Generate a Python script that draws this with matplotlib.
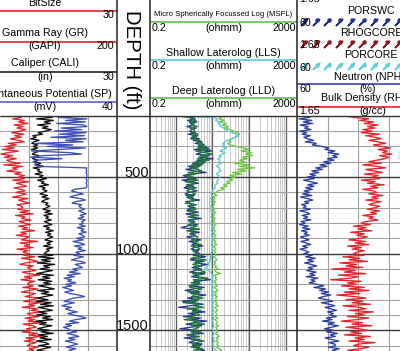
import numpy as np
import matplotlib
matplotlib.use("Agg")
import matplotlib.pyplot as plt
from matplotlib.ticker import FixedLocator

plt.rcParams['font.family'] = ['Liberation Sans', 'DejaVu Sans']

DEPTH = np.arange(100, 1650, 10)

# Gamma Ray (GAPI), scale 0 - 200
GR = [62, 70, 58, 74, 66, 79, 60, 72, 64, 76,
      68, 57, 73, 61, 70, 55, 66, 74, 52, 63,
      48, 60, 44, 66, 52, 42, 58, 47, 63, 50,
      55, 68, 46, 72, 58, 64, 50, 70, 61, 74,
      66, 74, 58, 80, 63, 71, 77, 60, 69, 75,
      62, 76, 70, 58, 79, 66, 73, 81, 64, 70,
      72, 65, 80, 68, 86, 62, 75, 70, 83, 67,
      74, 82, 66, 78, 71, 88, 69, 77, 63, 80,
      76, 70, 92, 68, 81, 74, 86, 64, 79, 72,
      80, 73, 88, 70, 84, 92, 75, 68, 86, 78,
      82, 90, 71, 79, 95, 74, 84, 69, 88, 80,
      78, 86, 72, 92, 80, 70, 89, 83, 75, 94,
      85, 73, 96, 80, 88, 71, 92, 83, 100, 78,
      82, 94, 75, 88, 79, 98, 72, 86, 90, 77,
      84, 71, 92, 80, 97, 76, 88, 74, 90, 82,
      78, 93, 81, 87, 75]

# Caliper (in), scale 0 - 30
CALI = [14.5, 16.8, 13.6, 17.0, 15.2, 16.4, 13.8, 15.9, 14.8, 16.6,
        15.4, 13.9, 14.8, 12.8, 13.5, 12.4, 14.1, 13.0, 12.6, 13.8,
        12.9, 13.8, 12.5, 14.3, 13.2, 12.7, 14.0, 13.4, 12.8, 13.9,
        13.1, 14.4, 13.6, 15.0, 12.9, 14.2, 13.8, 14.7, 13.3, 14.9,
        14.2, 15.6, 13.8, 15.1, 14.6, 16.0, 14.1, 15.3, 14.8, 15.7,
        15.0, 14.3, 15.8, 14.7, 16.1, 15.2, 14.6, 15.9, 15.4, 16.3,
        15.6, 14.9, 16.4, 15.3, 16.8, 15.1, 16.0, 15.5, 16.6, 15.2,
        15.9, 16.7, 15.0, 16.2, 15.6, 17.0, 15.4, 16.5, 15.8, 16.9,
        16.1, 15.3, 16.8, 15.7, 16.4, 15.0, 16.9, 15.6, 16.2, 15.4,
        15.2, 16.9, 13.9, 17.1, 14.6, 16.4, 13.7, 17.3, 15.0, 16.2,
        14.3, 16.8, 15.1, 13.6, 17.0, 14.8, 16.3, 13.9, 16.7, 15.0,
        16.5, 14.0, 15.8, 17.2, 13.8, 16.1, 14.6, 16.9, 15.2, 13.7,
        15.9, 13.5, 16.6, 14.4, 17.0, 13.9, 15.5, 16.8, 14.1, 15.7,
        13.6, 16.4, 14.8, 16.9, 13.4, 15.6, 14.2, 16.7, 15.0, 13.8,
        16.2, 14.5, 17.0, 13.9, 15.8, 14.3, 16.6, 13.5, 15.4, 16.1,
        14.0, 16.5, 15.1, 13.7, 16.0]

# Spontaneous Potential (mV), scale -160 - 40
SP = [-2, -40, -1, -30, -3, -42, -5, -1, -36, -8,
      -45, -2, -38, -4, -50, -2, -30, -6, -72, -20,
      -55, -3, -40, -76, -25, -8, -60, -78, -35, -70,
      -74, -70, -72, -68, -1, -2, -1, -2, -1, -1,
      -1, -2, -1, -1, -2, -1, -1, -2, -18, -22,
      -14, -6, -18, -24, -10, -3, -16, -21, -8, -12,
      -9, -4, -12, -7, -2, -10, -5, -13, -3, -8,
      -6, -11, -3, -14, -5, -9, -2, -12, -7, -4,
      -15, -6, -20, -10, -4, -18, -8, -13, -3, -16,
      -11, -19, -6, -14, -22, -9, -3, -17, -12, -7,
      -20, -14, -25, -10, -28, -18, -32, -22, -27, -16,
      -30, -22, -34, -26, -19, -31, -24, -12, -4, -20,
      -26, -32, -18, -28, -35, -22, -30, -24, -14, -27,
      -20, -9, -2, -16, -25, -12, -30, -22, -33, -26,
      -24, -15, -28, -19, -12, -26, -17, -30, -21, -14,
      -22, -29, -16, -25, -19]

# Resistivity (ohmm), log scale 0.2 - 2000
RES_B = [0.9, 2.6, 3.4, 2.1, 3.8, 2.5, 3.1, 2.0, 3.6, 2.8,
         2.4, 3.5, 2.2, 3.9, 2.7, 4.4, 3.0, 5.2, 3.4, 6.0,
         4.1, 7.8, 3.2, 9.5, 5.0, 3.6, 8.2, 4.4, 10.5, 3.8,
         6.4, 2.9, 5.3, 2.2, 4.0, 1.9, 3.3, 6.8, 2.5, 1.6,
         2.1, 3.6, 1.5, 2.9, 4.2, 2.0, 3.1, 1.7, 2.6, 3.8,
         2.3, 1.8, 3.2, 2.0, 2.7, 4.5, 1.9, 2.4, 3.0, 2.2,
         3.4, 2.1, 2.8, 4.1, 1.9, 3.0, 2.5, 5.0, 2.2, 3.3,
         2.6, 3.9, 2.0, 1.4, 3.1, 2.4, 4.4, 2.7, 3.5, 2.0,
         3.0, 4.8, 2.3, 3.6, 2.8, 5.5, 3.2, 2.6, 4.2, 3.4,
         4.6, 3.0, 6.5, 3.8, 2.5, 5.8, 3.3, 7.2, 4.0, 2.8,
         5.0, 3.5, 2.4, 6.2, 3.9, 2.7, 5.4, 8.8, 3.1, 4.5,
         3.6, 2.3, 5.9, 3.0, 1.8, 4.7, 2.6, 6.6, 3.4, 2.1,
         4.2, 1.5, 3.1, 5.6, 2.4, 1.2, 3.8, 2.9, 6.3, 2.2,
         3.5, 1.6, 4.8, 2.7, 7.0, 3.2, 1.9, 5.1, 2.5, 1.3,
         3.9, 2.6, 5.7, 2.0, 3.4, 1.7, 4.6, 3.0, 2.3, 5.3,
         2.9, 4.4, 3.6, 6.1, 3.2]

LLD = [1.2, 3.0, 2.5, 3.6, 2.3, 3.2, 2.7, 3.9, 2.4, 3.1,
       3.3, 2.6, 4.0, 2.9, 3.7, 2.5, 4.6, 3.8, 5.5, 4.1,
       6.8, 4.0, 8.6, 3.5, 6.1, 9.8, 4.7, 7.4, 3.9, 8.1,
       3.4, 5.9, 2.7, 4.6, 2.4, 3.9, 5.2, 2.2, 3.6, 2.0,
       3.0, 2.2, 4.1, 1.8, 3.4, 2.6, 1.9, 3.7, 2.4, 2.0,
       2.8, 3.5, 1.9, 3.0, 2.3, 3.3, 2.6, 1.8, 3.7, 2.5,
       2.4, 3.6, 2.0, 3.1, 2.7, 4.2, 2.2, 3.5, 2.9, 2.3,
       3.2, 2.2, 3.8, 2.5, 4.5, 2.0, 3.1, 2.4, 2.8, 3.9,
       3.8, 2.7, 4.1, 3.0, 5.0, 2.6, 3.9, 4.6, 2.9, 3.5,
       3.4, 5.4, 3.9, 2.6, 6.8, 3.5, 4.4, 2.9, 5.2, 3.7,
       3.2, 4.8, 6.5, 2.9, 4.1, 3.6, 7.5, 3.0, 4.7, 2.6,
       4.9, 3.0, 2.4, 5.1, 3.7, 2.2, 4.3, 3.2, 2.7, 5.6,
       2.7, 3.8, 1.6, 4.4, 3.1, 5.8, 2.0, 4.7, 2.8, 3.5,
       4.6, 2.4, 3.3, 1.7, 4.0, 2.9, 6.1, 2.6, 4.3, 3.4,
       2.5, 4.9, 3.2, 2.1, 4.5, 3.0, 2.6, 5.9, 3.6, 2.8,
       4.8, 2.6, 5.5, 3.1, 4.0]

LLS = [0.22, 11.0, 13.5, 12.2, 15.8, 14.0, 17.5, 16.2, 20.0, 22.5,
       27, 35, 44, 52, 41, 33, 26, 22, 19, 21,
       18, 24, 20, 16, 22, 19, 15, 17, 14, 16,
       15, 17, 14, 13, 16, 15, 17, 14, 13, 15,
       16, 15, 14, 13, 14, 12, 11.5, 12, 10.5, 10,
       9.6, 9.2, 10.0, 9.4, 8.9, 9.5, 9.1, 9.8, 9.3, 9.0,
       9.4, 9.7, 9.1, 9.9, 9.3, 9.6, 9.0, 9.5, 9.8, 9.2,
       9.6, 9.3, 10.1, 9.5, 9.8, 9.2, 10.0, 9.6, 9.4, 9.9,
       9.7, 10.2, 9.5, 10.0, 9.3, 9.8, 10.4, 9.6, 10.1, 9.4,
       9.2, 9.8, 8.6, 9.4, 8.2, 8.8, 7.6, 8.4, 7.2, 6.8,
       6.5, 7.8, 8.9, 9.5, 9.9, 10.4, 9.7, 10.2, 9.6, 10.0,
       9.8, 10.3, 9.5, 10.1, 9.7, 10.6, 10.0, 9.4, 10.2, 9.9,
       10.4, 9.8, 10.7, 10.1, 9.6, 10.5, 10.0, 10.8, 9.9, 10.3,
       10.6, 10.0, 10.9, 10.3, 9.8, 10.7, 10.2, 11.0, 10.4, 9.9,
       10.8, 10.2, 11.2, 10.5, 10.0, 11.0, 10.4, 11.3, 10.6, 10.1,
       11.1, 10.5, 11.6, 12.4, 11.0]

MSFL = [13, 18, 15, 21, 16, 24, 19, 27, 22, 30,
        38, 47, 55, 50, 42, 34, 28, 32, 26, 30,
        45, 70, 98, 60, 115, 80, 125, 65, 90, 55,
        75, 40, 100, 55, 140, 48, 85, 35, 62, 30,
        42, 28, 36, 24, 30, 20, 25, 17, 21, 14,
        12.5, 11.0, 13.2, 10.4, 11.8, 10.0, 12.0, 10.8, 11.4, 10.2,
        10.6, 11.5, 10.1, 12.2, 10.9, 11.3, 10.3, 11.9, 10.7, 11.6,
        11.0, 12.4, 10.5, 11.7, 10.2, 12.0, 11.2, 10.6, 12.6, 11.1,
        11.8, 10.7, 12.3, 11.4, 13.0, 10.9, 11.6, 12.5, 11.0, 12.1,
        11.3, 12.8, 10.6, 11.9, 13.4, 11.2, 12.2, 10.8, 12.9, 11.5,
        14.5, 11.6, 12.4, 16.8, 11.0, 12.7, 11.8, 13.2, 10.9, 12.5,
        11.9, 13.5, 11.2, 12.6, 14.0, 11.5, 12.9, 11.1, 13.7, 12.0,
        12.8, 11.4, 13.3, 12.1, 14.6, 11.7, 12.5, 13.8, 11.9, 12.7,
        13.1, 12.0, 14.2, 11.6, 12.9, 13.6, 12.3, 14.8, 12.1, 13.4,
        12.6, 14.0, 12.2, 13.5, 15.2, 12.8, 13.9, 12.4, 14.5, 13.1,
        14.2, 13.0, 15.6, 17.5, 14.1]

# Neutron (%), scale 60 - 0
NPHI = [58.5, 55.0, 59.2, 54.2, 57.6, 53.8, 58.8, 55.6, 57.0, 54.5,
        59.0, 56.2, 58.0, 54.8, 57.3, 55.9, 53.5, 56.8, 52.4, 54.0,
        50.2, 47.5, 49.0, 45.2, 47.8, 43.6, 46.0, 44.2, 48.1, 45.5,
        49.5, 46.8, 51.0, 48.2, 52.6, 50.0, 54.2, 51.5, 55.0, 52.8,
        56.0, 53.2, 57.4, 54.6, 52.0, 55.8, 53.4, 56.6, 54.0, 57.2,
        55.0, 57.8, 54.2, 58.6, 56.0, 53.8, 57.0, 55.4, 58.2, 56.4,
        57.6, 54.8, 58.9, 56.2, 55.0, 58.0, 55.8, 57.4, 54.6, 58.4,
        56.8, 59.0, 55.6, 57.9, 54.9, 58.3, 56.0, 57.2, 55.2, 58.6,
        57.0, 55.3, 58.5, 56.4, 54.7, 57.8, 55.9, 58.8, 56.6, 55.4,
        57.4, 54.0, 56.6, 52.8, 55.8, 53.5, 57.0, 54.4, 52.2, 55.6,
        53.8, 56.2, 52.5, 55.0, 53.0, 56.4, 51.8, 54.6, 52.9, 55.3,
        52.0, 49.5, 53.4, 48.8, 51.2, 47.6, 50.5, 46.8, 49.8, 51.6,
        48.2, 46.0, 50.4, 47.3, 45.2, 49.0, 46.6, 44.5, 48.0, 45.8,
        47.0, 44.6, 48.5, 46.2, 50.0, 45.4, 47.8, 43.8, 46.5, 49.2,
        45.6, 48.4, 44.2, 47.0, 45.0, 49.0, 46.4, 43.6, 47.5, 45.2,
        44.8, 47.6, 43.4, 46.2, 44.0]

# Bulk Density (g/cc), scale 1.65 - 2.65
RHOB = [1.95, 2.02, 2.12, 2.06, 2.15, 2.09, 2.18, 2.11, 2.16, 2.08,
        2.14, 2.07, 2.19, 2.10, 2.16, 2.20, 2.12, 2.18, 2.23, 2.15,
        2.20, 2.26, 2.18, 2.24, 2.21, 2.27, 2.19, 2.25, 2.22, 2.17,
        2.12, 2.20, 2.08, 2.17, 2.23, 2.10, 2.15, 2.21, 2.09, 2.18,
        2.14, 2.19, 2.07, 2.16, 2.11, 2.22, 2.13, 2.18, 2.08, 2.15,
        2.17, 2.12, 2.21, 2.14, 2.18, 2.10, 2.20, 2.15, 2.12, 2.19,
        2.16, 2.11, 2.19, 2.13, 2.17, 2.08, 2.15, 2.12, 2.18, 2.10,
        2.07, 2.13, 2.02, 2.10, 2.05, 2.14, 2.00, 2.09, 2.04, 2.11,
        2.06, 1.99, 2.10, 2.03, 2.12, 1.98, 2.07, 2.01, 2.09, 2.04,
        2.02, 2.09, 1.95, 2.06, 1.99, 2.11, 1.93, 2.04, 1.97, 2.08,
        1.88, 2.03, 1.96, 2.10, 1.92, 2.05, 2.00, 1.87, 2.07, 1.98,
        2.04, 1.94, 2.09, 1.99, 2.12, 1.96, 2.06, 1.91, 2.03, 2.10,
        1.97, 2.08, 2.01, 2.13, 1.95, 2.06, 2.10, 1.99, 2.15, 2.03,
        2.09, 1.98, 2.12, 2.04, 1.94, 2.08, 2.01, 2.14, 1.97, 2.06,
        2.11, 2.00, 2.07, 1.96, 2.13, 2.03, 2.09, 1.99, 2.16, 2.05,
        2.02, 2.12, 2.07, 1.98, 2.10]

DEPTH_LABELS = [500, 1000, 1500]

## LAYOUT (pixel boxes of a 400 x 351 canvas)
W, H = 400, 351
TOP = 115.8
DMIN, DMAX = 100, 1635
LW = 0.95

RED = '#e3242b'
SPBLUE = '#3d50b5'
NAVY = '#2b3a8c'
DKGREEN = '#1f7a3a'
CYAN = '#5ccbd6'
LTGREEN = '#6cc644'
NBLUE = '#2c3e9e'


def rect(x0, y0, x1, y1):
    return [x0 / W, 1 - y1 / H, (x1 - x0) / W, (y1 - y0) / H]


def setup_track(ax, minor=True):
    ax.set_ylim(DMAX, DMIN)
    ax.yaxis.set_major_locator(FixedLocator([500, 1000, 1500]))
    ax.yaxis.set_minor_locator(FixedLocator(np.arange(100, 1700, 100)))
    ax.tick_params(which='both', left=False, labelleft=False, bottom=False,
                   labelbottom=False, top=False, labeltop=False)
    ax.grid(which='major', axis='y', color='#3a3a3a', lw=1.0)
    if minor:
        ax.grid(which='minor', axis='y', color='#a0a0a0', lw=0.75)
    ax.set_axisbelow(True)
    for s in ax.spines.values():
        s.set_visible(False)


def twin(ax, lim):
    t = ax.twiny()
    t.set_xlim(*lim)
    t.axis('off')
    return t


fig = plt.figure(figsize=(W / 100, H / 100), dpi=100)

# Track 1: GR / CALI / SP
ax1 = fig.add_axes(rect(-30, TOP, 117, H))
setup_track(ax1)
ax1.set_xlim(0, 200)
ax1.xaxis.set_major_locator(FixedLocator([40, 80, 120, 160]))
ax1.grid(which='major', axis='x', color='#9a9a9a', lw=0.8)
ax1.plot(GR, DEPTH, color=RED, lw=LW)
tc = twin(ax1, (0, 30))
tc.plot(CALI, DEPTH, color='#111111', lw=LW)
ts = twin(ax1, (-160, 40))
ts.plot(SP, DEPTH, color=SPBLUE, lw=LW)

# Depth track
axd = fig.add_axes(rect(117, TOP, 150, H))
setup_track(axd, minor=False)
axd.set_xlim(0, 1)
for d in DEPTH_LABELS:
    axd.text(0.97, d, str(d), ha='right', va='baseline', fontsize=10.5,
             color='#111111')

# Track 2: resistivity
ax2 = fig.add_axes(rect(150, TOP, 297, H))
ax2.set_xscale('log')
setup_track(ax2)
ax2.set_xlim(0.2, 2000)
ax2.xaxis.set_major_locator(FixedLocator([1, 10, 100, 1000]))
minor_x = [m * 10.0 ** e for e in range(-1, 4) for m in range(2, 10)
           if 0.2 < m * 10.0 ** e < 2000]
ax2.xaxis.set_minor_locator(FixedLocator(minor_x))
ax2.tick_params(which='both', bottom=False, labelbottom=False)
ax2.grid(which='major', axis='x', color='#5a5a5a', lw=0.9)
ax2.grid(which='minor', axis='x', color='#b8b8b8', lw=0.55)
ax2.plot(MSFL, DEPTH, color=LTGREEN, lw=LW)
ax2.plot(LLS, DEPTH, color=CYAN, lw=LW)
ax2.plot(RES_B, DEPTH, color=NAVY, lw=LW)
ax2.plot(LLD, DEPTH, color=DKGREEN, lw=LW)

# Track 3: neutron / density
ax3 = fig.add_axes(rect(297, TOP, 450, H))
setup_track(ax3)
ax3.set_xlim(60, 0)
ax3.xaxis.set_major_locator(FixedLocator([48, 36, 24, 12]))
ax3.grid(which='major', axis='x', color='#a0a0a0', lw=0.8)
ax3.plot(NPHI, DEPTH, color=NBLUE, lw=LW)
tr = twin(ax3, (1.65, 2.65))
tr.plot(RHOB, DEPTH, color=RED, lw=LW)

## HEADER + borders (pixel space overlay)
ah = fig.add_axes([0, 0, 1, 1], zorder=10)
ah.set_xlim(0, W)
ah.set_ylim(H, 0)
ah.axis('off')

FS = 7.7
c1 = 45

def hline(x0, x1, y, color, lw=1.2):
    ah.plot([x0, x1], [y, y], color=color, lw=lw, solid_capstyle='butt')

# track 1 header
ah.text(c1, 3, 'BitSize', ha='center', va='center', fontsize=FS)
hline(0, 117, 11, RED)
ah.text(114, 15.5, '30', ha='right', va='center', fontsize=FS)
ah.text(c1, 33, 'Gamma Ray (GR)', ha='center', va='center', fontsize=FS)
hline(0, 117, 41.5, RED)
ah.text(c1, 46, '(GAPI)', ha='center', va='center', fontsize=FS)
ah.text(114, 46, '200', ha='right', va='center', fontsize=FS)
ah.text(c1, 63, 'Caliper (CALI)', ha='center', va='center', fontsize=FS)
hline(0, 117, 71.5, '#222222')
ah.text(c1, 76.5, '(in)', ha='center', va='center', fontsize=FS)
ah.text(114, 76.5, '30', ha='right', va='center', fontsize=FS)
ah.text(c1, 94, 'Spontaneous Potential (SP)', ha='center', va='center',
        fontsize=FS)
hline(0, 117, 102, '#5566cc')
ah.text(c1, 107, '(mV)', ha='center', va='center', fontsize=FS)
ah.text(114, 107, '40', ha='right', va='center', fontsize=FS)

# depth header
ah.text(131, 60, 'DEPTH (ft)', rotation=270, ha='center', va='center',
        fontsize=14.7)

# resistivity header
c2 = 223.5
for title, y, col, fs in [('Micro Spherically Focussed Log (MSFL)', 22, '#62c050', 5.6),
                          ('Shallow Laterolog (LLS)', 60, CYAN, FS),
                          ('Deep Laterolog (LLD)', 98, '#5cbf4c', FS)]:
    ah.text(c2, y - 7.5, title, ha='center', va='center', fontsize=fs)
    hline(150, 297, y, col)
    ah.text(152, y + 6, '0.2', ha='left', va='center', fontsize=FS)
    ah.text(c2, y + 6, '(ohmm)', ha='center', va='center', fontsize=FS)
    ah.text(296, y + 6, '2000', ha='right', va='center', fontsize=FS)

# track 3 header
c3 = 371
mx = np.arange(304, 405, 11.7)
ah.text(299, -1, '1.65', ha='left', va='center', fontsize=FS)
for title, y, col, lab in [('PORSWC', 10.5, '#24338a', '60'),
                           ('RHOGCORE', 32.5, '#8c1c24', '1.65'),
                           ('PORCORE', 55, '#5fd0d8', '60')]:
    ah.text(c3, y, title, ha='center', va='center', fontsize=FS)
    ah.plot(mx, np.full(len(mx), y + 11), ls='none', marker=(2, 2, -45),
            ms=7, mew=1.2, color=col)
    ah.plot(mx + 1.2, np.full(len(mx), y + 9.8), ls='none', marker='o',
            ms=2.2, color=col)
    ah.text(299, y + 13, lab, ha='left', va='center', fontsize=FS)
ah.text(c3, 77.5, 'Neutron (NPHI)', ha='center', va='center', fontsize=FS)
hline(297, 400, 84, '#3344aa')
ah.text(299, 89.5, '60', ha='left', va='center', fontsize=FS)
ah.text(368, 89.5, '(%)', ha='center', va='center', fontsize=FS)
ah.text(c3, 98, 'Bulk Density (RHOB)', ha='center', va='center', fontsize=FS)
hline(297, 400, 107, RED)
ah.text(299, 111.5, '1.65', ha='left', va='center', fontsize=FS)
ah.text(373, 111.5, '(g/cc)', ha='center', va='center', fontsize=FS)

# track borders
for x in [117, 150, 297]:
    ah.plot([x, x], [0, H], color='#333333', lw=1.2)
hline(0, W, TOP, '#333333', lw=1.0)

fig.savefig('out.png', dpi=100)
